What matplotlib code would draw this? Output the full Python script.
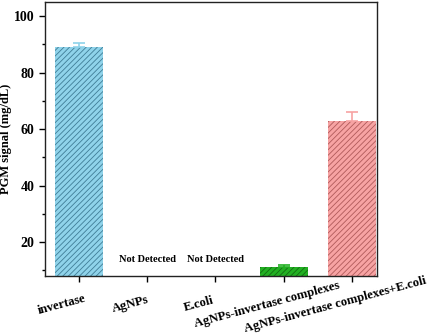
import matplotlib
matplotlib.use('Agg')
import matplotlib.pyplot as plt
import matplotlib.transforms as mtransforms
from matplotlib.ticker import MultipleLocator

# data
samples = ['invertase', 'AgNPs', 'E.coli', 'AgNPs-invertase complexes',
           'AgNPs-invertase complexes+E.coli']
signal = [89.2, 0, 0, 11.2, 62.9]
errors = [1.4, 0, 0, 0.7, 3.0]
detected = [True, False, False, True, True]
not_detected_text = 'Not Detected'
not_detected_level = 14

face_colors = ['#8fd3ea', 'none', 'none', '#22b022', '#f7a3a3']
hatch_colors = ['#3f7d96', 'none', 'none', '#136b13', '#b05a5a']

plt.rcParams['font.family'] = ['Liberation Serif', 'DejaVu Serif']
plt.rcParams['font.weight'] = 'bold'
plt.rcParams['hatch.linewidth'] = 0.6

fig = plt.figure(figsize=(4.29, 3.35), dpi=100)
ax = fig.add_axes([0.105, 0.176, 0.774, 0.818])

x = list(range(len(samples)))
for i in x:
    if detected[i]:
        ax.bar(i, signal[i], width=0.7, bottom=0, color=face_colors[i],
               edgecolor=hatch_colors[i], linewidth=0, hatch='//////', zorder=2)
        ax.errorbar(i, signal[i], yerr=[[0], [errors[i]]], fmt='none',
                    ecolor=face_colors[i], elinewidth=1.2, capsize=4,
                    capthick=1.2, zorder=3)
    else:
        ax.text(i, not_detected_level, not_detected_text, ha='center',
                va='center', fontsize=7.5, fontweight='bold')

ax.set_xlim(-0.5, 4.37)
ax.set_ylim(8, 105)
ax.yaxis.set_major_locator(MultipleLocator(20))
ax.yaxis.set_minor_locator(MultipleLocator(10))
ax.set_ylabel('PGM signal (mg/dL)', fontsize=9, fontweight='bold', va='center')
ax.yaxis.set_label_coords(-0.118, 0.5)

ax.set_xticks(x)
ax.set_xticklabels(samples, rotation=15, ha='center', va='center',
                   rotation_mode='anchor', fontsize=9.2, fontweight='bold')
ax.tick_params(axis='x', which='major', direction='out', length=4, width=1,
               pad=0, top=False)
ax.tick_params(axis='y', which='major', direction='out', length=4, width=1,
               labelsize=10, right=False)
ax.tick_params(axis='y', which='minor', direction='out', length=2.5, width=1,
               right=False)
offset = mtransforms.ScaledTranslation(-17 / 100, -23 / 100, fig.dpi_scale_trans)
for lab in ax.get_xticklabels():
    lab.set_transform(lab.get_transform() + offset)
for lab in ax.get_yticklabels():
    lab.set_fontweight('bold')

for sp in ax.spines.values():
    sp.set_linewidth(1.0)
    sp.set_color('#222222')

fig.savefig('out.png', dpi=100)
